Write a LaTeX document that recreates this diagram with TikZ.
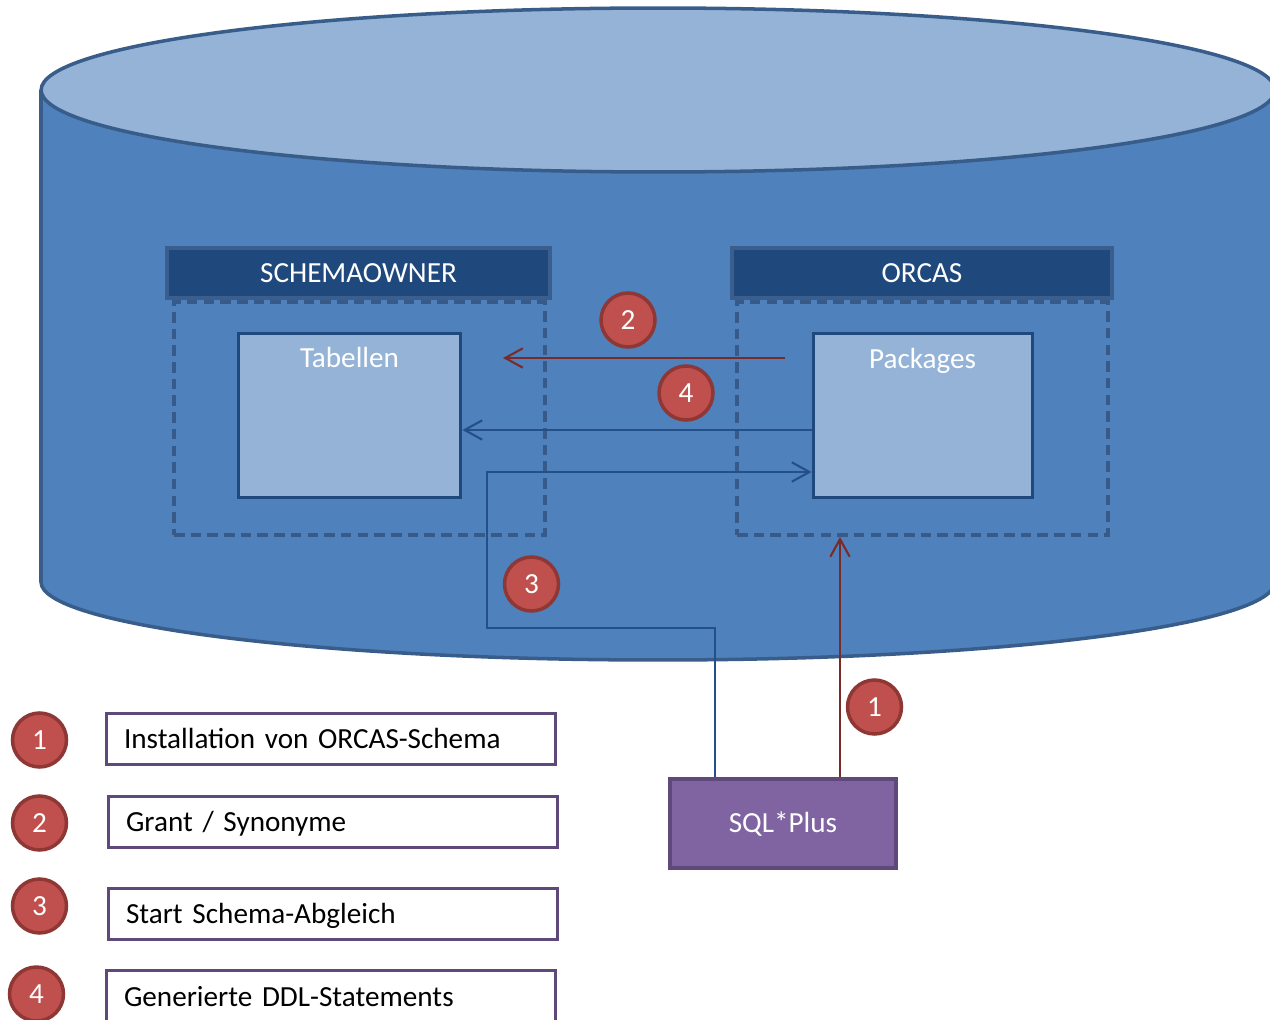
\documentclass[tikz,border=0pt]{standalone}
\usepackage{fontspec}
\setmainfont{Carlito}
\usetikzlibrary{arrows.meta}
\definecolor{bodyfill}{HTML}{4F81BD}
\definecolor{topfill}{HTML}{95B3D7}
\definecolor{cylline}{HTML}{385D8A}
\definecolor{hdrfill}{HTML}{1F497D}
\definecolor{hdrline}{HTML}{3A5F8F}
\definecolor{dkblue}{HTML}{1F497D}
\definecolor{dashcol}{HTML}{375A88}
\definecolor{redfill}{HTML}{C0504D}
\definecolor{redline}{HTML}{8E3735}
\definecolor{redarrow}{HTML}{7B2A2A}
\definecolor{bluearrow}{HTML}{24508A}
\definecolor{purfill}{HTML}{8064A2}
\definecolor{purline}{HTML}{5F497A}
\begin{document}
\begin{tikzpicture}[x=0.02cm,y=-0.02cm,
  font=\fontsize{16.6pt}{20pt}\selectfont,
  hdr/.style={draw=hdrline, fill=hdrfill, line width=2pt, text=white, inner sep=0pt,
    text height=10.7pt, text depth=0pt},
  innerbox/.style={draw=dkblue, fill=topfill, line width=2.2pt, inner sep=0pt},
  dashbox/.style={draw=dashcol, line width=2.2pt, dash pattern=on 6pt off 3.5pt, inner sep=0pt},
  txt/.style={text=white, inner sep=0pt, text height=10.7pt, text depth=0pt},
  num/.style={circle, fill=redfill, draw=redline, line width=2pt, text=white, inner sep=0pt,
    minimum size=1.08cm, text height=10.5pt, text depth=0pt},
  legbox/.style={draw=purline, fill=white, line width=2pt, inner xsep=0.35cm, inner ysep=0pt,
    text width=8.28cm, align=left, minimum height=1.02cm, text height=10.7pt, text depth=0pt},
  redarr/.style={draw=redarrow, line width=1.2pt, -{Straight Barb[length=10pt,width=11pt]}},
  bluearr/.style={draw=bluearrow, line width=1.2pt, -{Straight Barb[length=10pt,width=11pt]}}
]
\useasboundingbox (0,0) rectangle (1270,1020);
\clip (0,0) rectangle (1270,1020);
% cylinder
\fill[bodyfill] (41,90) -- (41,582) arc[start angle=180,end angle=360,x radius=12.34cm,y radius=1.56cm] -- (1275,90) -- cycle;
\draw[cylline, line width=2pt] (41,90) -- (41,582) arc[start angle=180,end angle=360,x radius=12.34cm,y radius=1.56cm] -- (1275,90);
\draw[cylline, line width=2pt, fill=topfill] (658,90) ellipse[x radius=12.34cm, y radius=1.64cm];
% groups
\node[dashbox, minimum width=7.42cm, minimum height=4.66cm] (sg) at (359.5,418.5) {};
\node[dashbox, minimum width=7.42cm, minimum height=4.66cm] (og) at (922.5,418.5) {};
\node[hdr, minimum width=7.66cm, minimum height=1.0cm] (sh) at (358.5,273) {SCHEMAOWNER};
\node[hdr, minimum width=7.6cm, minimum height=1.0cm] (oh) at (922,273) {ORCAS};
\node[innerbox, minimum width=4.44cm, minimum height=3.28cm] (tab) at (349.5,415.5) {};
\node[innerbox, minimum width=4.38cm, minimum height=3.28cm] (pkg) at (923,415.5) {};
\node[txt] (tabt) at (349.5,358.5) {Tabellen};
\node[txt] (pkgt) at (922.5,359) {Packages};
% SQL*Plus
\node[draw=purline, fill=purfill, line width=2.4pt, text=white, inner sep=0pt,
  minimum width=4.52cm, minimum height=1.78cm, text height=10.7pt, text depth=0pt] (sql) at (783,823.5) {SQL*Plus};
% helper coordinates
\coordinate (r2s) at (785,358);
\coordinate (r2e) at (503,358);
\coordinate (y430) at (0,430);
\coordinate (y472) at (0,472);
\coordinate (c3x) at (715,0);
\coordinate (c1x) at (840,0);
\coordinate (k1) at (715,628);
\coordinate (k2) at (487,628);
\coordinate (k3) at (487,472);
% connectors
\draw[redarr] (r2s) -- (r2e);
\draw[bluearr] (pkg.west |- y430) -- (tab.east |- y430);
\draw[bluearr] (sql.north -| c3x) -- (k1) -- (k2) -- (k3) -- (pkg.west |- y472);
\draw[redarr] (sql.north -| c1x) -- (og.south -| c1x);
% numbered circles
\node[num] (n2) at (628,320) {2};
\node[num] (n4) at (686,393) {4};
\node[num] (n3) at (531.5,584) {3};
\node[num] (n1) at (874.5,707) {1};
% legend
\node[num] (l1) at (39.5,740) {1};
\node[num] (l2) at (39.5,823) {2};
\node[num] (l3) at (39.5,906) {3};
\node[num] (l4) at (36.5,994) {4};
\node[legbox] (b1) at (331,739) {Installation von ORCAS-Schema};
\node[legbox] (b2) at (333,822) {Grant / Synonyme};
\node[legbox] (b3) at (333,914) {Start Schema-Abgleich};
\node[legbox, minimum height=1.06cm] (b4) at (331,997) {Generierte DDL-Statements};
\end{tikzpicture}
\end{document}
